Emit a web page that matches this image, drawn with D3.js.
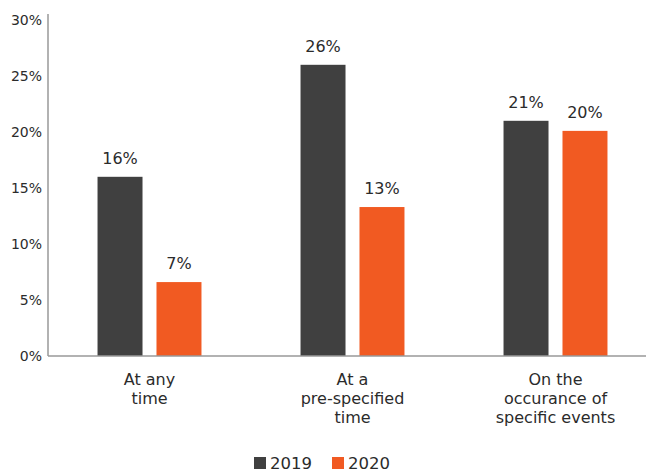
<!DOCTYPE html>
<html>
<head>
<meta charset="utf-8">
<script src="https://cdn.jsdelivr.net/npm/d3@7"></script>
<style>
  body { margin: 0; background: #fff; }
  svg text { font-family: "DejaVu Sans", "Noto Sans", sans-serif; fill: #2b2b2b; }
</style>
</head>
<body>
<div id="chart"></div>
<script>
// categories and series
var categories = [["At any", "time"], ["At a", "pre-specified", "time"], ["On the", "occurance of", "specific events"]];
var series = ["2019", "2020"];
var values2019 = [16, 26, 21];
var values2020 = [6.6, 13.3, 20.1];
var yTicks = [0, 5, 10, 15, 20, 25, 30];
var colors = ["#404040", "#f15a22"];

var width = 646, height = 473;
var margin = {top: 20, left: 48, bottom: 117};

var svg = d3.select("#chart").append("svg")
    .attr("width", width)
    .attr("height", height);

var y = d3.scaleLinear().domain([0, 30]).range([height - margin.bottom, margin.top]);

var x0 = d3.scaleBand().domain(d3.range(categories.length))
    .range([margin.left, margin.left + 3 * 203]).padding(0);

var x1 = d3.scaleBand().domain(series)
    .range([0, x0.bandwidth()])
    .paddingInner(0.237).paddingOuter(0.84);

// y axis
var yAxis = svg.append("g")
    .attr("transform", "translate(" + margin.left + ",0)")
    .call(d3.axisLeft(y).tickValues(yTicks).tickSize(0).tickPadding(6)
        .tickFormat(function(d) { return d + "%"; }));
yAxis.select(".domain").remove();
yAxis.selectAll("text").style("font-size", "14px").attr("fill", "#333");

svg.append("line")
    .attr("x1", margin.left).attr("x2", margin.left)
    .attr("y1", y(30) - 6).attr("y2", y(0))
    .attr("stroke", "#999").attr("stroke-width", 1.5);

var rows = categories.map(function(c, i) {
  return [{s: "2019", v: values2019[i]}, {s: "2020", v: values2020[i]}];
});

var groups = svg.selectAll("g.grp").data(rows).enter().append("g")
    .attr("class", "grp")
    .attr("transform", function(d, i) { return "translate(" + x0(i) + ",0)"; });

groups.selectAll("rect").data(function(d) { return d; }).enter().append("rect")
    .attr("x", function(d) { return x1(d.s); })
    .attr("y", function(d) { return y(d.v); })
    .attr("width", x1.bandwidth())
    .attr("height", function(d) { return y(0) - y(d.v); })
    .attr("fill", function(d, i) { return colors[i]; });

groups.selectAll("text.val").data(function(d) { return d; }).enter().append("text")
    .attr("class", "val")
    .attr("x", function(d) { return x1(d.s) + x1.bandwidth() / 2; })
    .attr("y", function(d) { return y(d.v) - 13; })
    .attr("text-anchor", "middle")
    .style("font-size", "16px")
    .text(function(d) { return Math.round(d.v) + "%"; });

// x axis line
svg.append("line")
    .attr("x1", margin.left).attr("x2", width)
    .attr("y1", y(0)).attr("y2", y(0))
    .attr("stroke", "#999").attr("stroke-width", 1.5);

// category labels
var catLabels = svg.selectAll("text.cat").data(categories).enter().append("text")
    .attr("class", "cat")
    .attr("text-anchor", "middle")
    .style("font-size", "16px")
    .attr("transform", function(d, i) { return "translate(" + (x0(i) + x0.bandwidth() / 2) + "," + (y(0) + 29) + ")"; });
catLabels.selectAll("tspan").data(function(d) { return d; }).enter().append("tspan")
    .attr("x", 0)
    .attr("dy", function(d, i) { return i ? 19 : 0; })
    .text(function(d) { return d; });

// legend
var legend = svg.append("g").attr("transform", "translate(254,457)");
var items = legend.selectAll("g").data(series).enter().append("g")
    .attr("transform", function(d, i) { return "translate(" + (i * 78) + ",0)"; });
items.append("rect").attr("width", 12).attr("height", 12)
    .attr("fill", function(d, i) { return colors[i]; });
items.append("text").attr("x", 16).attr("y", 12)
    .style("font-size", "16.5px")
    .text(function(d) { return d; });
</script>
</body>
</html>
